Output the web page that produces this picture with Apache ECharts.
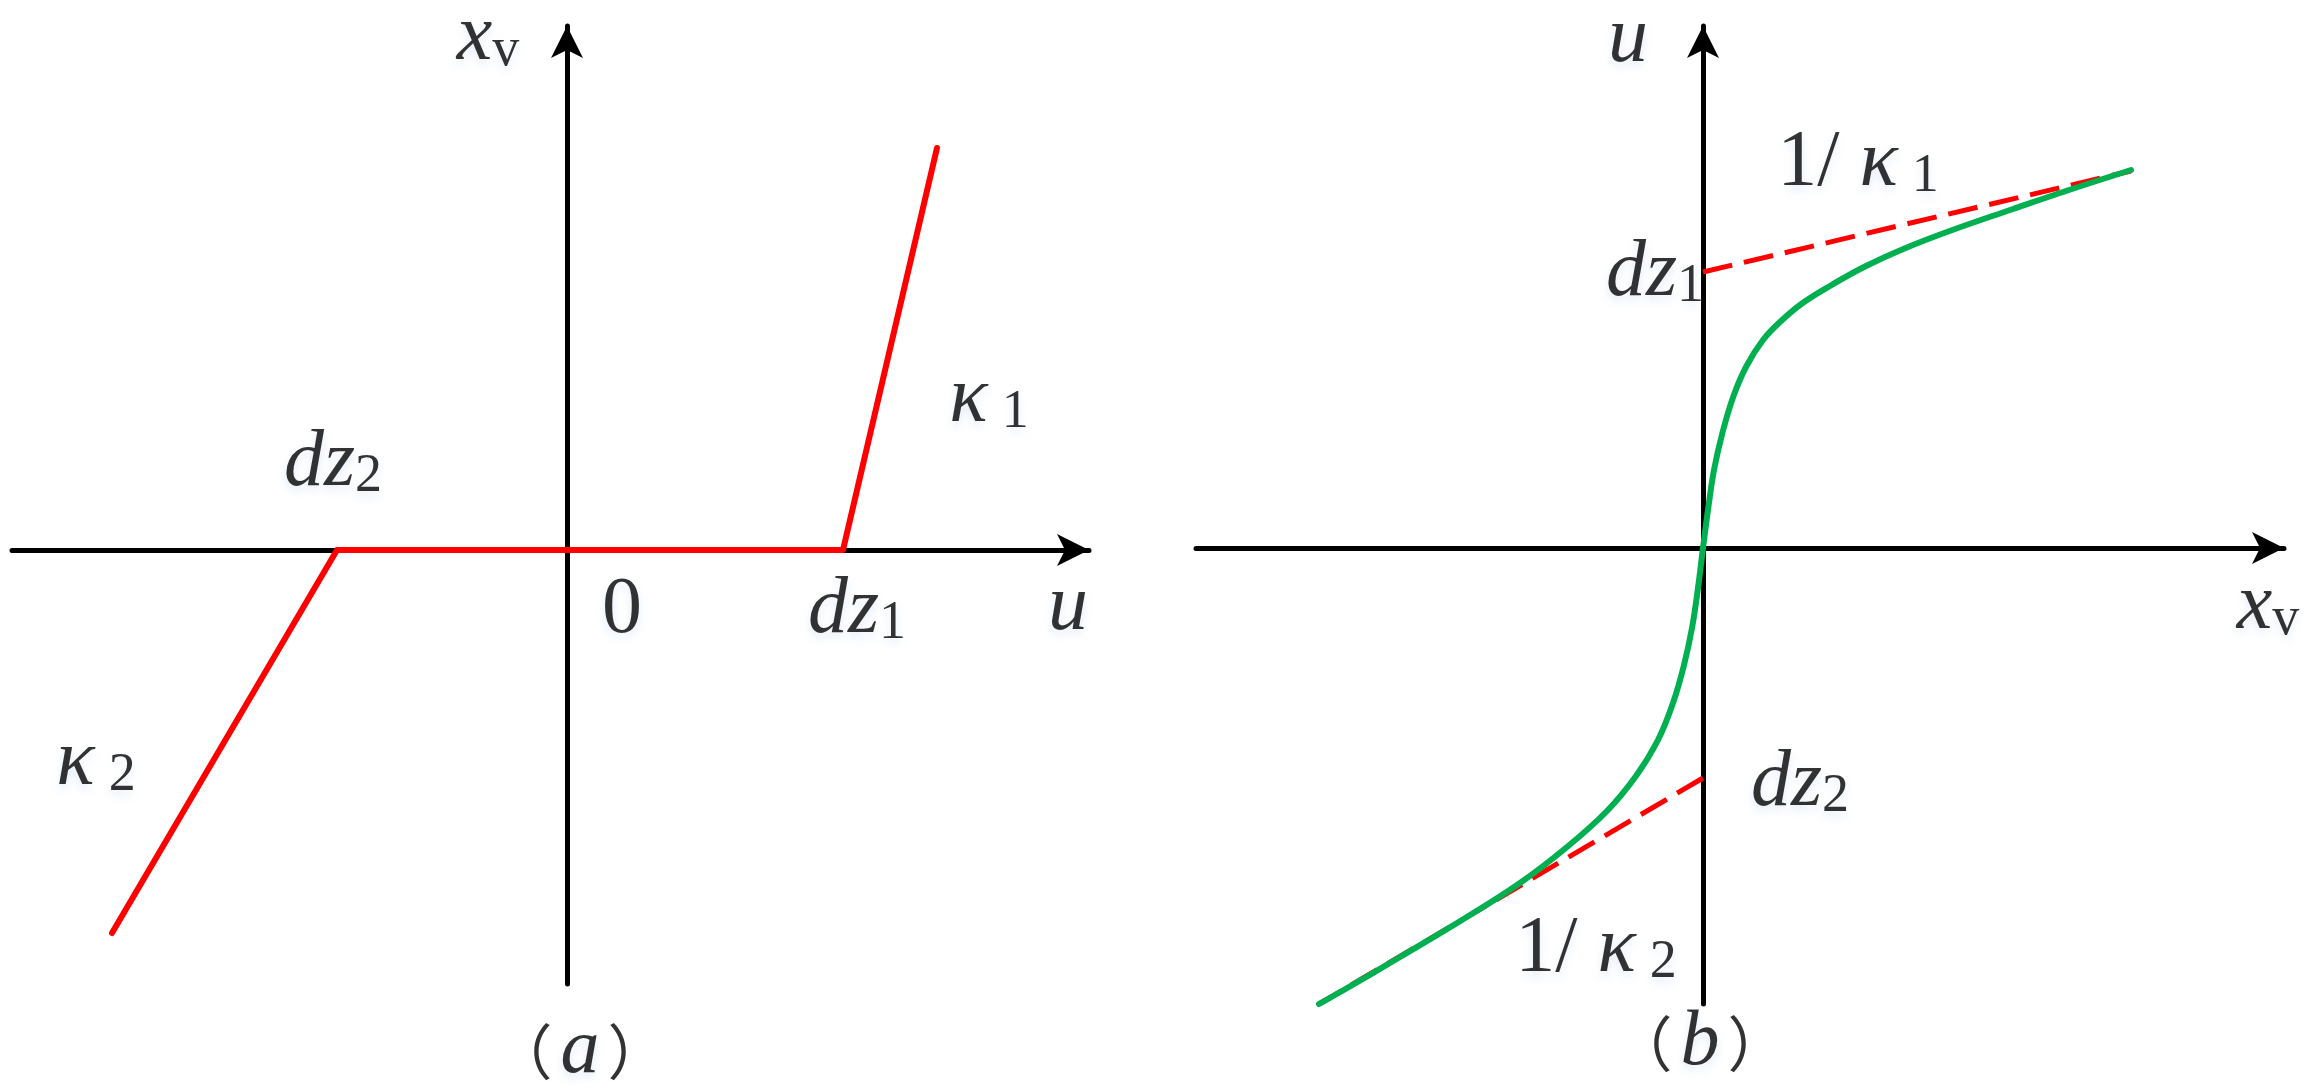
<!DOCTYPE html>
<html>
<head>
<meta charset="utf-8">
<script src="https://cdn.jsdelivr.net/npm/echarts@6/dist/echarts.min.js"></script>
<style>
html,body{margin:0;padding:0;background:#ffffff;}
#chart{width:2321px;height:1091px;}
</style>
</head>
<body>
<div id="chart"></div>
<script>
// ---------------- data (abstract units, both panels share one scale) ----------------
// (a) dead-zone characteristic x_v = f(u)
const deadZoneU  = [-4.55, -2.30, 2.76, 3.70];
const deadZoneXv = [-3.83,  0.00, 0.00, 4.02];

// (b) inverse characteristic u = g(x_v): asymptotes (dashed) and smooth curve (green)
const asym1Xv = [0.00, 4.28];
const asym1U  = [2.76, 3.77];
const asym2Xv = [0.00, -3.84];
const asym2U  = [-2.30, -4.56];

const curveXv = [-3.84, -3.61, -3.03, -2.41, -1.83, -1.36, -0.96, -0.67, -0.45, -0.30, -0.19, -0.11, -0.05, 0.00,
                  0.054, 0.11, 0.194, 0.305, 0.435, 0.60, 0.77, 0.99, 1.286, 1.62, 2.026, 2.507, 3.10, 3.69, 4.28];
const curveU  = [-4.56, -4.43, -4.09, -3.72, -3.35, -2.99, -2.63, -2.28, -1.92, -1.55, -1.17, -0.80, -0.40, 0.00,
                  0.41, 0.78, 1.15, 1.52, 1.82, 2.08, 2.26, 2.445, 2.63, 2.815, 3.00, 3.185, 3.39, 3.59, 3.78];

// axis extents
const leftURange   = [-5.55, 5.22];
const leftXvRange  = [-4.34, 5.24];
const rightXvRange = [-5.07, 5.81];
const rightURange  = [-4.56, 5.22];

// annotation texts
const leftLabels  = ['{i|x}{s|v}', '{i|dz}{s|2}', '{n|0}', '{i|dz}{s|1}', '{i|u}', '{i|κ}{sg|1}', '{i|κ}{sg|2}', '{p|（}{pi|a}{p|）}'];
const rightLabels = ['{i|u}', '{i|x}{s|v}', '{i|dz}{s|1}', '{n|1/ }{i|κ}{sg|1}', '{i|dz}{s|2}', '{n|1/ }{i|κ}{sg|2}', '{p|（}{pi|b}{p|）}'];
// annotation anchors (data coordinates of each text centre)
const leftLabelAt  = [[-0.79, 5.125], [-2.34, 0.865], [0.55, -0.61], [2.90, -0.605], [5.01, -0.575], [4.22, 1.50], [-4.71, -2.125], [0.13, -5.02]];
const rightLabelAt = [[-0.75, 5.085], [5.65, -0.585], [-0.48, 2.745], [1.55, 3.84], [0.97, -2.36], [-1.07, -4.015], [-0.03, -4.96]];

// ---------------- chart ----------------
const zip = (a, b) => a.map((v, i) => [v, b[i]]);
const serif = 'Liberation Serif';
const halo = {textShadowColor: 'rgba(150,185,230,0.35)', textShadowBlur: 10, textShadowOffsetY: 5};
const rich = {
  i:  Object.assign({fontFamily: serif, fontStyle: 'italic', fontSize: 80, lineHeight: 80, verticalAlign: 'top', color: '#000'}, halo),
  n:  Object.assign({fontFamily: serif, fontSize: 80, lineHeight: 80, verticalAlign: 'top', color: '#000'}, halo),
  s:  Object.assign({fontFamily: serif, fontSize: 54, lineHeight: 34, verticalAlign: 'bottom', color: '#000'}, halo),
  sg: Object.assign({fontFamily: serif, fontSize: 54, lineHeight: 34, verticalAlign: 'bottom', color: '#000', padding: [0, 0, 0, 14]}, halo),
  p:  {fontFamily: 'Noto Sans CJK SC', fontSize: 60, lineHeight: 80, verticalAlign: 'middle', color: '#000'},
  pi: Object.assign({fontFamily: serif, fontStyle: 'italic', fontSize: 78, lineHeight: 80, verticalAlign: 'top', color: '#000', padding: [0, 8, 0, 8]}, halo)
};

function makeAxis(gridIndex, range) {
  return {
    type: 'value', gridIndex: gridIndex, min: range[0], max: range[1],
    axisLine: {show: true, onZero: true, symbol: ['none', 'arrow'], symbolSize: [24, 32],
               lineStyle: {color: '#000', width: 5}},
    axisTick: {show: false}, axisLabel: {show: false}, splitLine: {show: false}, axisPointer: {show: false}
  };
}

function labelSeries(idx, texts, anchors) {
  return {
    type: 'scatter', xAxisIndex: idx, yAxisIndex: idx, silent: true, clip: false, z: 5,
    symbolSize: 0, itemStyle: {color: 'rgba(0,0,0,0)'},
    emphasis: {disabled: true},
    data: anchors,
    label: {show: true, position: 'inside', align: 'center', verticalAlign: 'middle',
            fontFamily: serif, formatter: p => texts[p.dataIndex], rich: rich}
  };
}

const chart = echarts.init(document.getElementById('chart'), null, {renderer: 'canvas'});
chart.setOption({
  animation: false,
  backgroundColor: '#ffffff',
  textStyle: {fontFamily: serif},
  grid: [
    {left: 12, right: 1232, top: 26, bottom: 107, containLabel: false},
    {left: 1196, right: 37, top: 26, bottom: 87, containLabel: false}
  ],
  xAxis: [makeAxis(0, leftURange), makeAxis(1, rightXvRange)],
  yAxis: [makeAxis(0, leftXvRange), makeAxis(1, rightURange)],
  series: [
    {type: 'line', name: 'dead zone', xAxisIndex: 0, yAxisIndex: 0, data: zip(deadZoneU, deadZoneXv),
     symbol: 'none', silent: true, lineStyle: {color: '#ff0000', width: 6, cap: 'round', join: 'round'}},
    {type: 'line', name: '1/κ1', xAxisIndex: 1, yAxisIndex: 1, data: zip(asym1Xv, asym1U),
     symbol: 'none', silent: true, lineStyle: {color: '#ff0000', width: 5, type: [30, 12]}},
    {type: 'line', name: '1/κ2', xAxisIndex: 1, yAxisIndex: 1, data: zip(asym2Xv, asym2U),
     symbol: 'none', silent: true, lineStyle: {color: '#ff0000', width: 5, type: [30, 12]}},
    {type: 'line', name: 'inverse', xAxisIndex: 1, yAxisIndex: 1, data: zip(curveXv, curveU),
     symbol: 'none', silent: true, smooth: 0.4, clip: false,
     lineStyle: {color: '#00b050', width: 6, cap: 'round', join: 'round'}},
    labelSeries(0, leftLabels, leftLabelAt),
    labelSeries(1, rightLabels, rightLabelAt)
  ]
});
</script>
</body>
</html>
